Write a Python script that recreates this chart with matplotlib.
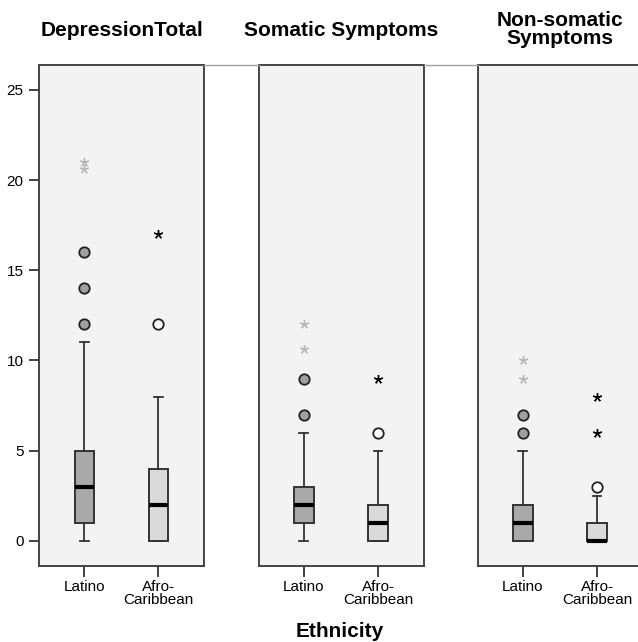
import matplotlib
matplotlib.use("Agg")
import matplotlib.pyplot as plt
from matplotlib.lines import Line2D

plt.rcParams['font.family'] = ['Liberation Sans', 'DejaVu Sans']

panels = ["DepressionTotal", "Somatic Symptoms", "Non-somatic\nSymptoms"]
groups = ["Latino", "Afro-\nCaribbean"]

# box stats per panel: [Latino, Afro-Caribbean] -> (whislo, q1, med, q3, whishi)
box_stats = [
    [(0, 1, 3, 5, 11), (0, 0, 2, 4, 8)],
    [(0, 1, 2, 3, 6), (0, 0, 1, 2, 5)],
    [(0, 0, 1, 2, 5), (0, 0, 0, 1, 2.5)],
]
# mild outliers (circles)
mild = [
    [[12, 14, 16], [12]],
    [[7, 9], [6]],
    [[6, 7], [3]],
]
# extreme outliers (stars)
extreme = [
    [[20.6, 21], [17]],
    [[10.65, 12], [9]],
    [[9, 10], [6, 8]],
]

box_fill = ["#a9a9a9", "#dadada"]
circle_fill = ["#a0a0a0", "white"]
star_color = ["#b8b8b8", "black"]

fig = plt.figure(figsize=(6.38, 6.42), dpi=100)
W, H = 638, 642
lefts = [39, 258.7, 477.7]
top_px, bot_px, w_px = 64.7, 565.7, 165.3

for i in range(3):
    ax = fig.add_axes([lefts[i] / W, 1 - bot_px / H, w_px / W, (bot_px - top_px) / H])
    ax.set_facecolor("#f3f3f3")
    stats = []
    for j in range(2):
        lo, q1, med, q3, hi = box_stats[i][j]
        stats.append(dict(whislo=lo, q1=q1, med=med, q3=q3, whishi=hi, fliers=[]))
    bp = ax.bxp(stats, positions=[1, 2], widths=0.26, showfliers=False,
                patch_artist=True,
                boxprops=dict(edgecolor="#333333", linewidth=1.4),
                medianprops=dict(color="black", linewidth=3),
                whiskerprops=dict(color="#333333", linewidth=1.3),
                capprops=dict(color="#333333", linewidth=1.3),
                capwidths=0.12)
    for j, patch in enumerate(bp["boxes"]):
        patch.set_facecolor(box_fill[j])
        patch.set_zorder(2)
    for j in range(2):
        ys = mild[i][j]
        ax.plot([j + 1] * len(ys), ys, linestyle="none", marker="o", markersize=7.5,
                markerfacecolor=circle_fill[j], markeredgecolor="#222222",
                markeredgewidth=1.3, zorder=3)
        ys = extreme[i][j]
        ax.plot([j + 1] * len(ys), ys, linestyle="none", marker=(5, 2, 0), markersize=6.5,
                color=star_color[j], markeredgewidth=1.0, zorder=3)

    ax.set_xlim(0.39, 2.62)
    ax.set_ylim(-1.38, 26.4)
    ax.set_xticks([1, 2])
    ax.set_xticklabels(groups, fontsize=11, linespacing=0.95)
    ax.tick_params(axis="x", direction="out", length=8, width=1.3, color="#333333", pad=2)
    if i == 0:
        ax.set_yticks([0, 5, 10, 15, 20, 25])
        ax.tick_params(axis="y", direction="out", length=7, width=1.3,
                       color="#333333", labelsize=11, pad=4)
    else:
        ax.set_yticks([])
    for s in ax.spines.values():
        s.set_color("#444444")
        s.set_linewidth(1.4)
    if "\n" in panels[i]:
        fig.text((lefts[i] + w_px / 2) / W, 1 - 11.5 / H, panels[i], ha="center", va="top",
                 fontsize=15, fontweight="bold", linespacing=0.88)
    else:
        fig.text((lefts[i] + w_px / 2) / W, 1 - 36 / H, panels[i], ha="center",
                 va="baseline", fontsize=15, fontweight="bold")

# thin line joining the panel tops
y_top = 1 - top_px / H
for a, b in [(0, 1), (1, 2)]:
    fig.add_artist(Line2D([(lefts[a] + w_px) / W, lefts[b] / W], [y_top, y_top],
                          color="#a0a0a0", linewidth=1))

fig.text(340 / W, 1 - 637 / H, "Ethnicity", ha="center", va="baseline",
         fontsize=15, fontweight="bold")

fig.savefig("out.png", dpi=100)
